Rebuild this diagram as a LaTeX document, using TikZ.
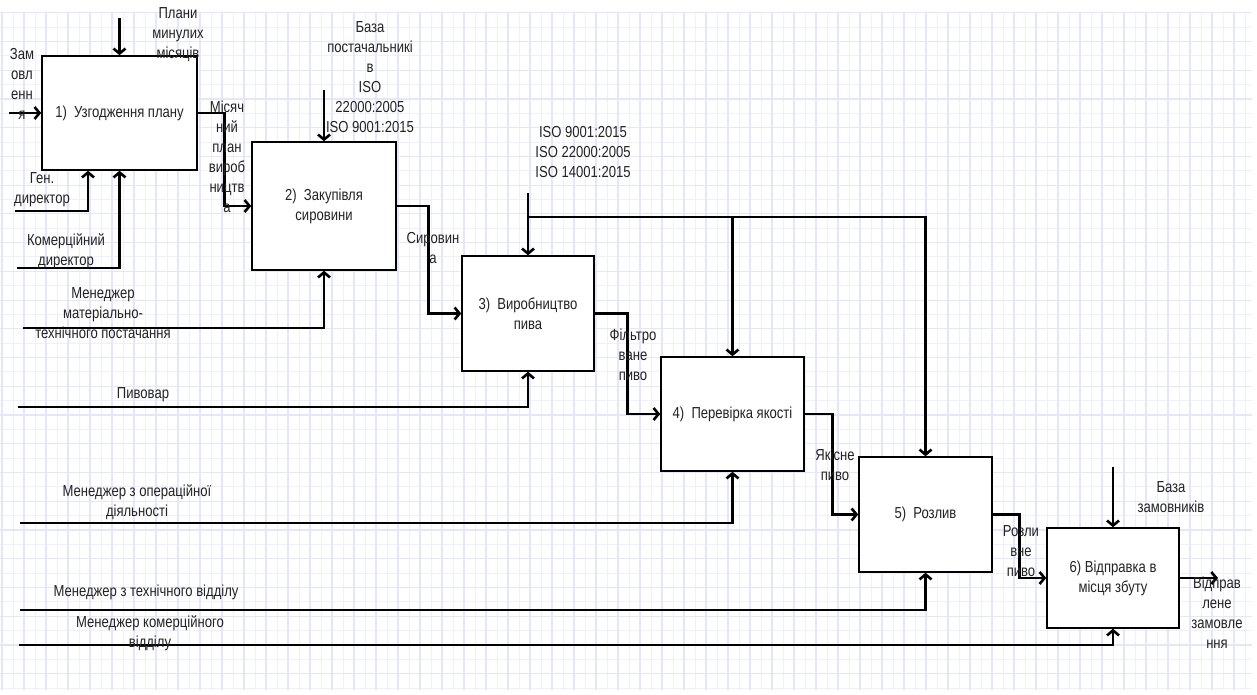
\documentclass[tikz,border=0pt]{standalone}
\usepackage{fontspec}
\setmainfont{Liberation Sans}[FakeStretch=0.82]
\usetikzlibrary{arrows.meta}
\definecolor{gridminor}{RGB}{240,240,253}
\definecolor{gridmajor}{RGB}{230,230,251}
\definecolor{labeltext}{RGB}{35,35,35}

\begin{document}
\begin{tikzpicture}[
    x=1bp,y=-1bp,
    func box/.style={draw,fill=white,line width=1.5bp,inner sep=0pt,
      align=center,font=\fontsize{16}{20}\selectfont,text=labeltext},
    flow arrow/.style={-{Straight Barb[length=5bp,width=12bp]},line width=2.6bp},
    flow label/.style={inner sep=0pt,align=center,
      font=\fontsize{16}{20}\selectfont,text=labeltext}
  ]
  \useasboundingbox (0,0) rectangle (1257,695);
  \fill[white] (0,0) rectangle (1257,695);
  \foreach \i in {0,...,113}
    \draw[gridminor,line width=1bp] ({2+11*\i},12.7) -- ({2+11*\i},690);
  \foreach \j in {0,...,47}
    \draw[gridminor,line width=1bp] (0,{12.7+14.37*\j}) -- (1252,{12.7+14.37*\j});
  \foreach \i in {0,2,...,112}
    \draw[gridmajor,line width=1.2bp] ({2+11*\i},12.7) -- ({2+11*\i},690);
  \foreach \j in {0,2,...,46}
    \draw[gridmajor,line width=1.2bp] (0,{12.7+14.37*\j}) -- (1252,{12.7+14.37*\j});

  \node[func box,minimum width=155bp,minimum height=114bp] (b1) at (119.5,113) {1)~~Узгодження плану};
  \node[func box,minimum width=144bp,minimum height=128bp] (b2) at (324,206) {2)~~Закупівля\\сировини};
  \node[func box,minimum width=132bp,minimum height=115bp] (b3) at (528,313.5) {3)~~Виробництво\\пива};
  \node[func box,minimum width=143bp,minimum height=114bp] (b4) at (732.5,414) {4)~~Перевірка якості};
  \node[func box,minimum width=133bp,minimum height=115bp] (b5) at (925.5,514.5) {5)~~Розлив};
  \node[func box,minimum width=132bp,minimum height=100bp] (b6) at (1113,578) {6) Відправка в\\місця збуту};

  \coordinate (zam) at (9,113);
  \coordinate (plany) at (119.5,18);
  \coordinate (baza post) at (324,90);
  \coordinate (iso top) at (528,193);
  \coordinate (iso) at (528,217);
  \coordinate (baza zam) at (1113,467);
  \coordinate (vidpr) at (1218,578);
  \coordinate (gen dir) at (15,211);
  \coordinate (kom dir) at (17,268);
  \coordinate (man mtp) at (23,328);
  \coordinate (pyvovar) at (18,407);
  \coordinate (man oper) at (20,523);
  \coordinate (man tech) at (20,610);
  \coordinate (man kom) at (19,645);

  \draw[flow arrow] (zam) -- (b1.west);
  \draw[flow arrow] (plany) -- (b1.north);
  \draw[flow arrow] (b1.east) -- ++(27,0) |- (b2.west);
  \draw[flow arrow] (baza post) -- (b2.north);
  \draw[flow arrow] (b2.east) -- ++(32,0) |- (b3.west);
  \draw[flow arrow] (iso top) -- (b3.north);
  \draw[flow arrow] (iso) -- (iso -| b5.north) -- (b5.north);
  \draw[flow arrow] (iso -| b4.north) -- (b4.north);
  \draw[flow arrow] (b3.east) -- ++(33,0) |- (b4.west);
  \draw[flow arrow] (b4.east) -- ++(28,0) |- (b5.west);
  \draw[flow arrow] (b5.east) -- ++(27,0) |- (b6.west);
  \draw[flow arrow] (baza zam) -- (b6.north);
  \draw[flow arrow] (b6.east) -- (vidpr);
  \draw[flow arrow] (gen dir) -| ([xshift=-31.5bp]b1.south);
  \draw[flow arrow] (kom dir) -| (b1.south);
  \draw[flow arrow] (man mtp) -| (b2.south);
  \draw[flow arrow] (pyvovar) -| (b3.south);
  \draw[flow arrow] (man oper) -| (b4.south);
  \draw[flow arrow] (man tech) -| (b5.south);
  \draw[flow arrow] (man kom) -| (b6.south);

  \node[flow label] (l zam) at (22,84) {Зам\\овл\\енн\\я};
  \node[flow label] (l plany) at (178,35) {Плани\\минулих\\місяців};
  \node[flow label] (l plan) at (227,156.5) {Місяч\\ний\\план\\вироб\\ництв\\а};
  \node[flow label] (l baza post) at (370,77) {База\\постачальникі\\в\\ISO\\22000:2005\\ISO 9001:2015};
  \node[flow label] (l iso) at (583,152) {ISO 9001:2015\\ISO 22000:2005\\ISO 14001:2015};
  \node[flow label] (l syrovyna) at (433,248) {Сировин\\а};
  \node[flow label] (l filtr) at (633,355) {Фільтро\\ване\\пиво};
  \node[flow label] (l yakisne) at (835,464.5) {Якісне\\пиво};
  \node[flow label] (l rozlyv) at (1021,551) {Розли\\вне\\пиво};
  \node[flow label] (l baza zam) at (1171,497) {База\\замовників};
  \node[flow label] (l vidpr) at (1217,613) {Відправ\\лене\\замовле\\ння};
  \node[flow label] (l gen dir) at (42,190) {Ген.\\директор};
  \node[flow label] (l kom dir) at (66,251) {Комерційний\\директор};
  \node[flow label] (l man mtp) at (103,313) {Менеджер\\матеріально-\\технічного постачання};
  \node[flow label] (l pyvovar) at (143,395) {Пивовар};
  \node[flow label] (l man oper) at (137,502) {Менеджер з операційної\\діяльності};
  \node[flow label] (l man tech) at (146,592) {Менеджер з технічного відділу};
  \node[flow label] (l man kom) at (150,633) {Менеджер комерційного\\відділу};
\end{tikzpicture}
\end{document}
